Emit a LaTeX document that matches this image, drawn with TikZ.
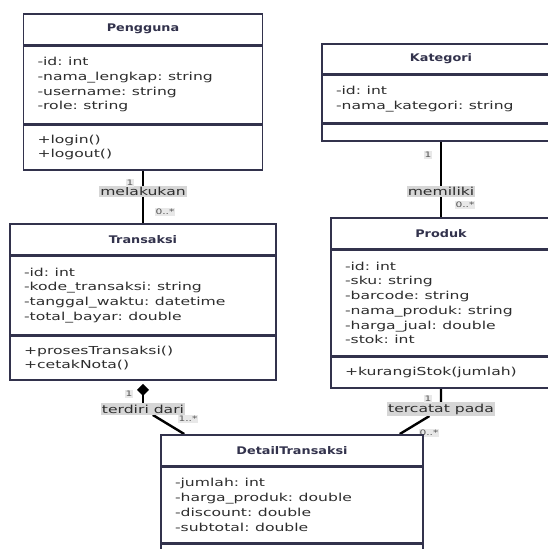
\documentclass[tikz,border=0pt]{standalone}
\usepackage{fontspec}
\setmainfont{DejaVu Sans}
\newfontfamily\umlfont[FakeStretch=1.42]{DejaVu Sans}
\newfontfamily\umltitle[FakeStretch=1.22]{DejaVu Sans}
\usetikzlibrary{arrows.meta}

\definecolor{umlborder}{RGB}{50,50,76}
\definecolor{umltext}{RGB}{45,45,45}
\definecolor{labelgray}{RGB}{214,214,214}
\definecolor{multgray}{RGB}{232,232,232}
\definecolor{multtext}{RGB}{85,85,85}

\pgfdeclarelayer{background}
\pgfsetlayers{background,main}

\tikzset{
  classtitle/.style={draw=umlborder, line width=1.6pt, fill=white, anchor=north,
    minimum width=#1, minimum height=31pt, inner sep=0pt, text=umlborder,
    font=\umltitle\bfseries\fontsize{10.5}{12}\selectfont},
  classpart/.style 2 args={draw=umlborder, line width=1.6pt, fill=white, anchor=north,
    minimum width=#1, text width=#2, inner xsep=14pt, inner ysep=0pt, align=left,
    text=umltext, font=\umlfont\fontsize{11}{14.7}\selectfont},
  assoc/.style={draw=black, line width=2.4pt},
  edgelabel/.style={fill=labelgray, inner xsep=1pt, inner ysep=1.5pt, text=umltext,
    font=\umlfont\fontsize{11}{12}\selectfont},
  mult/.style={fill=multgray, inner sep=0.8pt, text=multtext,
    font=\umlfont\fontsize{7.5}{8}\selectfont}
}

\begin{document}
\begin{tikzpicture}[x=1pt, y=-1pt]
  \useasboundingbox (0,0) rectangle (547,549);

  % Pengguna
  \node[classtitle=239pt] (pengguna) at (143,13) {Pengguna};
  \node[classpart={239pt}{211pt}, minimum height=77pt] (pengguna-attr) at (pengguna.south)
    {-id: int\\-nama\_lengkap: string\\-username: string\\-role: string};
  \node[classpart={239pt}{211pt}, minimum height=45pt] (pengguna-meth) at (pengguna-attr.south)
    {+login()\\+logout()};

  % Transaksi
  \node[classtitle=266pt] (transaksi) at (143,223) {Transaksi};
  \node[classpart={266pt}{238pt}, minimum height=78pt] (transaksi-attr) at (transaksi.south)
    {-id: int\\-kode\_transaksi: string\\-tanggal\_waktu: datetime\\-total\_bayar: double};
  \node[classpart={266pt}{238pt}, minimum height=44pt] (transaksi-meth) at (transaksi-attr.south)
    {+prosesTransaksi()\\+cetakNota()};

  % Kategori
  \node[classtitle=238pt, minimum height=30pt] (kategori) at (441,43) {Kategori};
  \node[classpart={238pt}{210pt}, minimum height=47pt] (kategori-attr) at (kategori.south)
    {-id: int\\-nama\_kategori: string};
  \node[classpart={238pt}{210pt}, minimum height=17pt] (kategori-meth) at (kategori-attr.south) {};

  % Produk
  \node[classtitle=220pt] (produk) at (441,217) {Produk};
  \node[classpart={220pt}{192pt}, minimum height=105pt] (produk-attr) at (produk.south)
    {-id: int\\-sku: string\\-barcode: string\\-nama\_produk: string\\-harga\_jual: double\\-stok: int};
  \node[classpart={220pt}{192pt}, minimum height=31pt] (produk-meth) at (produk-attr.south)
    {+kurangiStok(jumlah)};

  % DetailTransaksi
  \node[classtitle=262pt] (detail) at (292,434) {DetailTransaksi};
  \node[classpart={262pt}{234pt}, minimum height=75pt] (detail-attr) at (detail.south)
    {-jumlah: int\\-harga\_produk: double\\-discount: double\\-subtotal: double};
  \node[classpart={262pt}{234pt}, minimum height=17pt] (detail-meth) at (detail-attr.south) {};

  % relation labels
  \node[edgelabel] (melakukan) at (143,191.5) {melakukan};
  \node[edgelabel] (memiliki) at (441,191.5) {memiliki};
  \node[edgelabel] (terdiri) at (143,409) {terdiri dari};
  \node[edgelabel] (tercatat) at (441,409) {tercatat pada};

  % multiplicities
  \node[mult] (m-pengguna) at (130,183) {1};
  \node[mult] (m-transaksi) at (165,212) {0..*};
  \node[mult] (m-kategori) at (428,155) {1};
  \node[mult] (m-produk) at (465,205) {0..*};
  \node[mult] (m-komposisi) at (129,394) {1};
  \node[mult] (m-detail) at (188,419) {1..*};
  \node[mult] (m-produk2) at (428,399) {1};

  \begin{pgfonlayer}{background}
    \fill[white] (0,0) rectangle (547,549);
    \node[mult] (m-detail2) at (429,433) {0..*};
    \draw[assoc] (pengguna-meth.south) -- (melakukan) -- (transaksi.north);
    \draw[assoc] (kategori-meth.south) -- (memiliki) -- (produk.north);
    \draw[assoc, {Diamond[length=12pt,width=12pt,line width=0pt]}-] ([yshift=-3pt]transaksi-meth.south) -- (terdiri);
    \draw[assoc] (terdiri) -- ([xshift=24pt]detail.north west);
    \draw[assoc] (produk-meth.south) -- (tercatat) -- ([xshift=-24pt]detail.north east);
  \end{pgfonlayer}
\end{tikzpicture}
\end{document}
